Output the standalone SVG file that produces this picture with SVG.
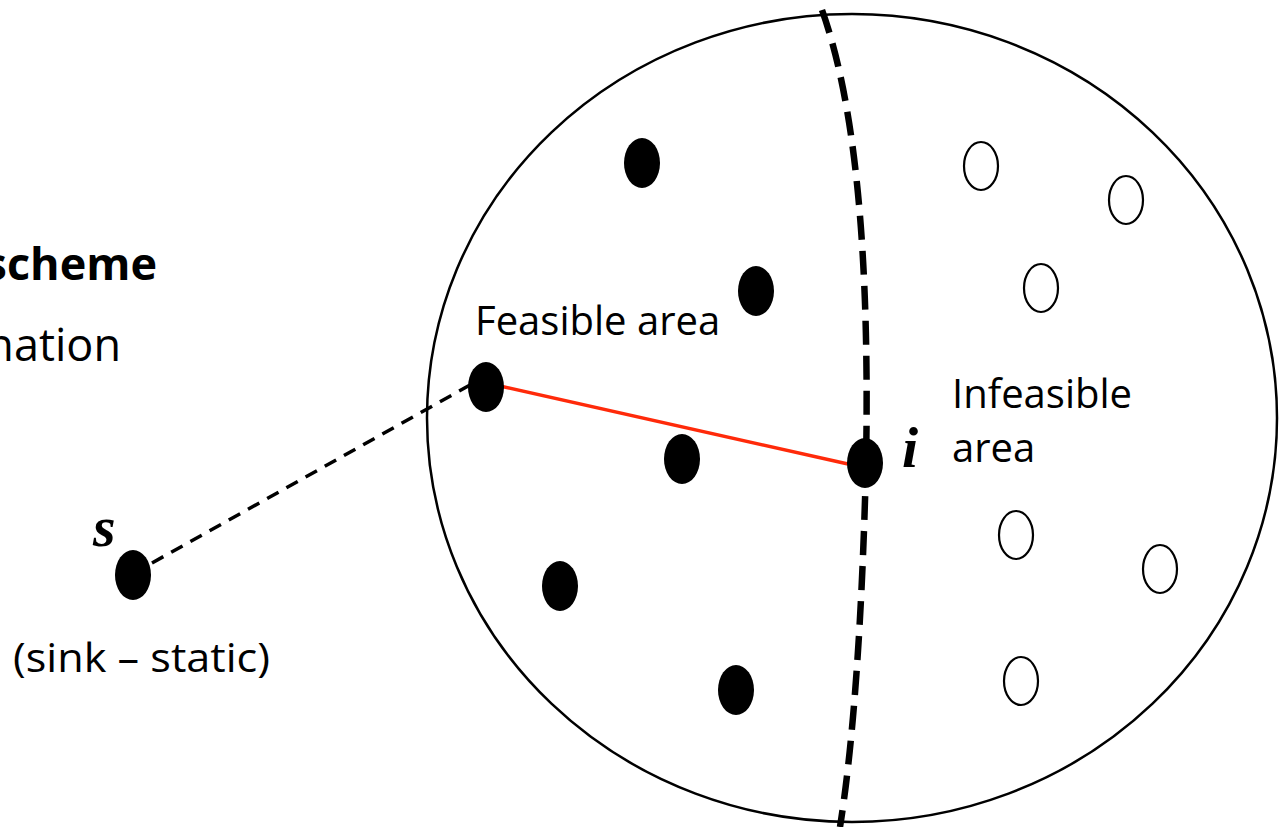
<svg xmlns="http://www.w3.org/2000/svg" width="1279" height="827" viewBox="0 0 1279 827">
<style>
.lbl{font-family:"Open Sans","Liberation Sans",sans-serif;font-size:40px;fill:#000}
.big{font-family:"Open Sans","Liberation Sans",sans-serif;font-size:45px;fill:#000}
.var{font-family:"Liberation Serif","DejaVu Serif",serif;font-style:italic;font-weight:bold;font-size:58px;fill:#000}
.full{fill:#000;stroke:none}
.empty{fill:#fff;stroke:#000;stroke-width:2.2}
</style>
<rect width="1279" height="827" fill="#fff"/>
<g id="fragments">
<text class="big" x="157" y="280" text-anchor="end" font-weight="bold">scheme</text>
<text class="big" x="121" y="361" text-anchor="end">nation</text>
</g>
<g id="region">
<ellipse cx="852" cy="418" rx="425" ry="404" fill="none" stroke="#000" stroke-width="2.5"/>
</g>
<g id="connectors">
<path d="M822,10 Q872,150 866,465 Q860,700 840,827" fill="none" stroke="#000" stroke-width="6.5" stroke-dasharray="24,11"/>
<line x1="500" y1="386" x2="848" y2="464" stroke="#ff2a0a" stroke-width="3.5"/>
<line x1="152" y1="563" x2="470" y2="385" stroke="#000" stroke-width="3.5" stroke-dasharray="13,9"/>
</g>
<g id="nodes">
<g id="s"><ellipse class="full" cx="133" cy="575" rx="18" ry="25"/><text class="var" x="93" y="546">s</text></g>
<g id="i"><ellipse class="full" cx="865" cy="463" rx="18" ry="25"/><text class="var" x="902" y="467">i</text></g>
<g id="f1"><ellipse class="full" cx="642" cy="163" rx="18" ry="25"/></g>
<g id="f2"><ellipse class="full" cx="756" cy="291" rx="18" ry="25"/></g>
<g id="f3"><ellipse class="full" cx="486" cy="387" rx="18" ry="25"/></g>
<g id="f4"><ellipse class="full" cx="682" cy="459" rx="18" ry="25"/></g>
<g id="f5"><ellipse class="full" cx="560" cy="586" rx="18" ry="25"/></g>
<g id="f6"><ellipse class="full" cx="736" cy="690" rx="18" ry="25"/></g>
<g id="n1"><ellipse class="empty" cx="981" cy="166" rx="17" ry="24"/></g>
<g id="n2"><ellipse class="empty" cx="1126" cy="200" rx="17" ry="24"/></g>
<g id="n3"><ellipse class="empty" cx="1041" cy="288" rx="17" ry="24"/></g>
<g id="n4"><ellipse class="empty" cx="1016" cy="535" rx="17" ry="24"/></g>
<g id="n5"><ellipse class="empty" cx="1160" cy="569" rx="17" ry="24"/></g>
<g id="n6"><ellipse class="empty" cx="1021" cy="681" rx="17" ry="24"/></g>
</g>
<g id="labels">
<text class="lbl" x="475" y="335">Feasible area</text>
<text class="lbl" x="952" y="408">Infeasible</text>
<text class="lbl" x="952" y="462">area</text>
<text class="lbl" x="13" y="672" textLength="257" lengthAdjust="spacingAndGlyphs">(sink – static)</text>
</g>
</svg>
